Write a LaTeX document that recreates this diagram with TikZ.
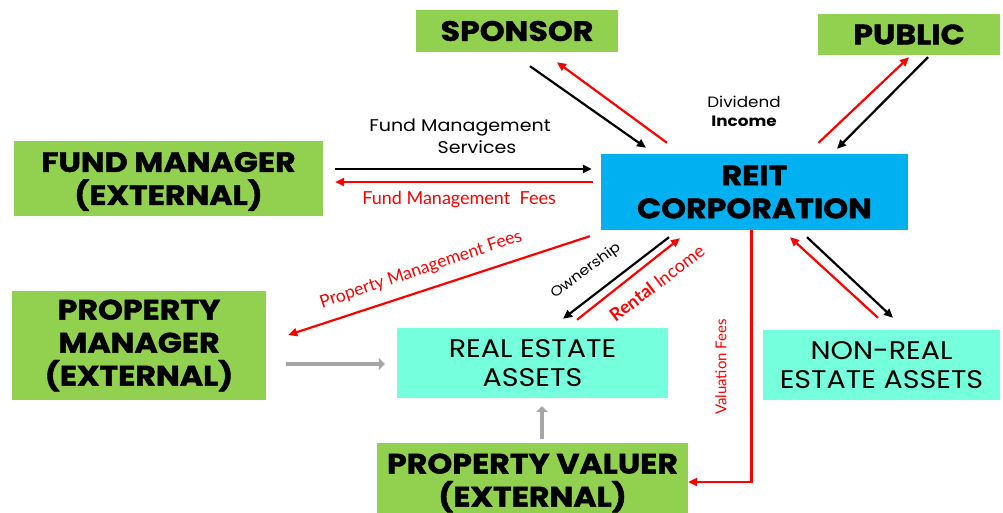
\documentclass[tikz,border=0pt]{standalone}
\usepackage{fontspec}
\setmainfont{Liberation Sans}
\newfontfamily\geo{Poppins}[FakeStretch=1.12]
\newfontfamily\boxf{Poppins}[FakeStretch=1.13, BoldFeatures={FakeBold=1.5}]
\newfontfamily\hum{Lato}
\usetikzlibrary{arrows.meta,calc}
\definecolor{grn}{RGB}{146,208,80}
\definecolor{blu}{RGB}{0,176,240}
\definecolor{aqu}{RGB}{118,255,220}
\definecolor{gry}{RGB}{166,166,166}
\definecolor{rd}{RGB}{255,0,0}
\begin{document}
\begin{tikzpicture}[x=1pt,y=-1pt,
  gbox/.style={fill=grn, draw=none, inner sep=0pt, align=center,
    font=\boxf\fontsize{28}{33}\selectfont\bfseries},
  bbox/.style={fill=blu, draw=none, inner sep=0pt, align=center,
    font=\boxf\fontsize{28}{33}\selectfont\bfseries},
  abox/.style={fill=aqu, draw=none, inner sep=0pt, align=center,
    font=\geo\fontsize{25.5}{29}\selectfont},
  blk/.style={draw=black, line width=2.2pt, -{Triangle[length=9pt,width=8pt]}},
  rdar/.style={draw=rd, line width=2.2pt, -{Triangle[length=9pt,width=8pt]}},
  gar/.style={draw=gry, line width=4.5pt, -{Triangle[length=6pt,width=12pt]}},
  lbl/.style={font=\geo\fontsize{15}{19}\selectfont, inner sep=0pt},
  rlbl/.style={text=rd, font=\hum\fontsize{18}{20}\selectfont, inner sep=0pt}
]
\useasboundingbox (0,0) rectangle (1003,513);

\node[gbox, minimum width=202pt, minimum height=42pt] (sponsor) at (517,31) {SPONSOR};
\node[gbox, minimum width=182pt, minimum height=41pt] (public) at (909,34.5) {PUBLIC};
\node[gbox, minimum width=309pt, minimum height=75pt, text depth=0pt] (fund) at (168.5,178.5) {FUND MANAGER\\(EXTERNAL)};
\node[bbox, minimum width=307pt, minimum height=76pt] (reit) at (754.5,192) {REIT\\CORPORATION};
\node[gbox, minimum width=254pt, minimum height=109pt] (pm) at (139,345.5) {PROPERTY\\MANAGER\\(EXTERNAL)};
\node[abox, minimum width=271pt, minimum height=70pt] (rea) at (532.5,363) {REAL ESTATE\\ASSETS};
\node[abox, minimum width=237pt, minimum height=70pt] (nrea) at (881.5,365) {NON-REAL\\ESTATE ASSETS};
\node[gbox, minimum width=311pt, minimum height=80pt] (pv) at (532.5,483) {PROPERTY VALUER\\(EXTERNAL)};

% sponsor
\draw[blk] ($(sponsor.south)+(13,14)$) -- ($(reit.north)+(-108.5,-6)$);
\draw[rdar] ($(reit.north)+(-87.5,-11)$) -- ($(sponsor.south)+(40,10)$);
% public
\draw[rdar] ($(reit.north)+(64,-11)$) -- ($(public.south)+(0,2)$);
\draw[blk] ($(public.south)+(19,2)$) -- ($(reit.north)+(82.5,-5)$);
% fund
\draw[blk] ($(fund.east)+(12,-9.5)$) -- ($(reit.west)+(-9,-23)$);
\draw[rdar] ($(reit.west)+(-8,-10)$) -- ($(fund.east)+(12,3.5)$);
% property management fees
\draw[rdar] ($(reit.south west)+(-11,6)$) -- ($(pm.east)+(22,-10.5)$);
% ownership / rental
\draw[blk] ($(reit.south)+(-85.5,7)$) -- ($(rea.north)+(30.5,-9)$);
\draw[rdar] ($(rea.north)+(44.5,-8)$) -- ($(reit.south)+(-74.5,8)$);
% non real estate
\draw[blk] ($(reit.south)+(52.5,7)$) -- ($(nrea.north)+(11.5,-12)$);
\draw[rdar] ($(nrea.north)+(-3.5,-12)$) -- ($(reit.south)+(35.5,7)$);
% valuation
\draw[rdar] ($(reit.south)+(-3,0)$) |- ($(pv.east)+(0,-1)$);
% gray
\draw[gar] ($(pm.east)+(20,18.5)$) -- ($(rea.west)+(-12,1)$);
\draw[gar] ($(pv.north)+(9.5,-4)$) -- ($(rea.south)+(9.5,8)$);

% labels
\node[lbl, font=\geo\fontsize{17}{19}\selectfont] (fms1) at (460,128) {Fund Management};
\node[lbl, font=\geo\fontsize{17}{19}\selectfont] (fms2) at (477,147) {Services};
\node[rlbl] (fmf) at (459,200) {Fund Management\ \ Fees};
\node[lbl, align=center] (div) at (744,111) {Dividend\\\bfseries Income};
\node[rlbl, font=\hum\fontsize{17.5}{20}\selectfont, rotate=18.6] (pmf) at (421,270) {Property Management Fees};
\node[lbl, font=\geo\fontsize{14}{16}\selectfont, rotate=37] (own) at (586,271) {Ownership};
\node[rlbl, rotate=37] (rent) at (657,283) {\bfseries Rental\mdseries\ Income};
\node[rlbl, font=\hum\fontsize{15}{17}\selectfont, rotate=90] (val) at (721,367) {Valuation Fees};
\end{tikzpicture}
\end{document}
